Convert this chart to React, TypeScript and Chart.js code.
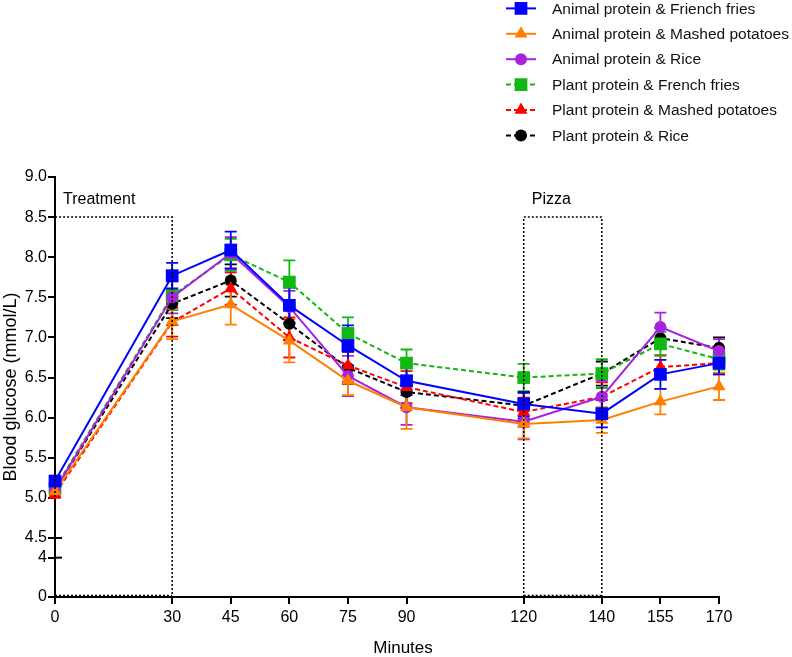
import React, { useEffect, useRef } from 'react';
import { Chart, registerables } from 'chart.js';

Chart.register(...registerables);

// ---------- data ----------
const minutes = [0, 30, 45, 60, 75, 90, 120, 140, 155, 170];
const lowerTickValues = [0, 4];

const seriesNames = [
  'Animal protein & Friench fries',
  'Animal protein & Mashed potatoes',
  'Animal protein & Rice',
  'Plant protein & French fries',
  'Plant protein & Mashed potatoes',
  'Plant protein & Rice',
];

const xTitle = 'Minutes';
const yTitle = 'Blood glucose (mmol/L)';

const animalFrenchFries = [5.21, 7.77, 8.09, 7.4, 6.9, 6.46, 6.17, 6.05, 6.54, 6.68];
const animalFrenchFriesSem = [0.05, 0.16, 0.23, 0.22, 0.25, 0.18, 0.15, 0.17, 0.18, 0.14];

const animalMashed = [5.08, 7.2, 7.41, 6.96, 6.46, 6.13, 5.92, 5.97, 6.2, 6.39];
const animalMashedSem = [0.05, 0.22, 0.25, 0.27, 0.18, 0.27, 0.18, 0.16, 0.16, 0.17];

const animalRice = [5.1, 7.5, 8.05, 7.38, 6.52, 6.13, 5.95, 6.26, 7.13, 6.83];
const animalRiceSem = [0.05, 0.2, 0.2, 0.2, 0.25, 0.22, 0.22, 0.2, 0.18, 0.15];

const plantFrenchFries = [5.12, 7.52, 8.03, 7.69, 7.05, 6.68, 6.5, 6.55, 6.92, 6.73];
const plantFrenchFriesSem = [0.05, 0.18, 0.2, 0.27, 0.2, 0.17, 0.17, 0.18, 0.15, 0.13];

const plantMashed = [5.05, 7.19, 7.61, 7.0, 6.65, 6.38, 6.07, 6.26, 6.63, 6.68];
const plantMashedSem = [0.05, 0.18, 0.2, 0.25, 0.2, 0.2, 0.18, 0.18, 0.15, 0.14];

const plantRice = [5.1, 7.42, 7.71, 7.17, 6.62, 6.32, 6.15, 6.55, 6.99, 6.87];
const plantRiceSem = [0.05, 0.18, 0.2, 0.2, 0.2, 0.2, 0.16, 0.15, 0.13, 0.13];

const seriesValues = [animalFrenchFries, animalMashed, animalRice, plantFrenchFries, plantMashed, plantRice];
const seriesSem = [animalFrenchFriesSem, animalMashedSem, animalRiceSem, plantFrenchFriesSem, plantMashedSem, plantRiceSem];

// ---------- styles ----------
const colors = ['#0000ff', '#ff8000', '#a822e0', '#12b812', '#ff0000', '#000000'];
const shapes = ['rect', 'triangle', 'circle', 'rect', 'triangle', 'circle'];
const dashed = [false, false, false, true, true, true];
const radii: Record<string, number> = { rect: 9, triangle: 7.5, circle: 6 };
const DASH = [5, 3];
const FONT = '"Liberation Sans", Arial, sans-serif';

const boxes = [
  { label: 'Treatment', from: 0, to: 30, top: 8.5 },
  { label: 'Pizza', from: 120, to: 140, top: 8.5 },
];

function drawMarker(ctx: CanvasRenderingContext2D, shape: string, x: number, y: number, color: string) {
  ctx.save();
  ctx.setLineDash([]);
  ctx.fillStyle = color;
  ctx.beginPath();
  const r = radii[shape];
  if (shape === 'rect') {
    const s = r * Math.SQRT1_2;
    ctx.rect(x - s, y - s, 2 * s, 2 * s);
  } else if (shape === 'triangle') {
    ctx.moveTo(x, y - r);
    ctx.lineTo(x + r * 0.866, y + r * 0.5);
    ctx.lineTo(x - r * 0.866, y + r * 0.5);
    ctx.closePath();
  } else {
    ctx.arc(x, y, r, 0, Math.PI * 2);
  }
  ctx.fill();
  ctx.restore();
}

const errorBarPlugin = {
  id: 'errorBars',
  beforeDatasetsDraw(chart: any) {
    const ctx = chart.ctx as CanvasRenderingContext2D;
    const xs = chart.scales.x;
    const ys = chart.scales.y;
    for (let i = seriesValues.length - 1; i >= 0; i--) {
      ctx.save();
      ctx.strokeStyle = colors[i];
      ctx.lineWidth = 1.8;
      ctx.setLineDash([]);
      minutes.forEach((m, j) => {
        const v = seriesValues[i][j];
        const e = seriesSem[i][j];
        const x = xs.getPixelForValue(m);
        const yt = ys.getPixelForValue(v + e);
        const yb = ys.getPixelForValue(v - e);
        ctx.beginPath();
        ctx.moveTo(x, yt);
        ctx.lineTo(x, yb);
        ctx.moveTo(x - 6, yt);
        ctx.lineTo(x + 6, yt);
        ctx.moveTo(x - 6, yb);
        ctx.lineTo(x + 6, yb);
        ctx.stroke();
      });
      ctx.restore();
    }
  },
};

const decorPlugin = {
  id: 'decor',
  afterDraw(chart: any) {
    const ctx = chart.ctx as CanvasRenderingContext2D;
    const xs = chart.scales.x;
    const ys = chart.scales.y;
    const y2 = chart.scales.y2;
    // treatment / pizza boxes
    boxes.forEach((b) => {
      const x0 = xs.getPixelForValue(b.from);
      const x1 = xs.getPixelForValue(b.to);
      const yTop = ys.getPixelForValue(b.top);
      const yBot = y2.getPixelForValue(0);
      ctx.save();
      ctx.strokeStyle = '#000';
      ctx.lineWidth = 1.5;
      ctx.setLineDash([2, 2]);
      ctx.beginPath();
      ctx.moveTo(x0, yBot);
      ctx.lineTo(x0, yTop);
      ctx.lineTo(x1, yTop);
      ctx.lineTo(x1, yBot);
      ctx.moveTo(x0, yBot - 1.5);
      ctx.lineTo(x1, yBot - 1.5);
      ctx.stroke();
      ctx.restore();
      ctx.save();
      ctx.fillStyle = '#000';
      ctx.font = `16px ${FONT}`;
      ctx.textBaseline = 'alphabetic';
      ctx.textAlign = 'left';
      ctx.fillText(b.label, x0 + 8, ys.getPixelForValue(9) + 27);
      ctx.restore();
    });
    // axis break marks
    const axisX = chart.chartArea.left;
    ctx.save();
    ctx.strokeStyle = '#000';
    ctx.lineWidth = 2;
    ctx.setLineDash([]);
    [ys.getPixelForValue(4.5), y2.getPixelForValue(4)].forEach((py) => {
      ctx.beginPath();
      ctx.moveTo(axisX, py);
      ctx.lineTo(axisX + 7, py);
      ctx.stroke();
    });
    ctx.restore();
    // axis titles
    ctx.save();
    ctx.fillStyle = '#000';
    ctx.textAlign = 'center';
    ctx.textBaseline = 'middle';
    ctx.font = `17px ${FONT}`;
    ctx.fillText(xTitle, 403, 648);
    ctx.font = `18px ${FONT}`;
    ctx.translate(11, 387);
    ctx.rotate(-Math.PI / 2);
    ctx.fillText(yTitle, 0, 0);
    ctx.restore();
    // legend
    seriesNames.forEach((name, i) => {
      const cy = 8.4 + i * 25.4;
      ctx.save();
      ctx.strokeStyle = colors[i];
      ctx.lineWidth = 2;
      ctx.setLineDash(dashed[i] ? DASH : []);
      ctx.beginPath();
      ctx.moveTo(506, cy);
      ctx.lineTo(536, cy);
      ctx.stroke();
      ctx.restore();
      drawMarker(ctx, shapes[i], 521, cy, colors[i]);
      ctx.save();
      ctx.fillStyle = '#111';
      ctx.font = `15.5px ${FONT}`;
      ctx.textBaseline = 'middle';
      ctx.textAlign = 'left';
      ctx.fillText(name, 552, cy + 1);
      ctx.restore();
    });
  },
};

export default function App() {
  const ref = useRef<HTMLCanvasElement | null>(null);

  useEffect(() => {
    if (!ref.current) return;
    const datasets = seriesNames.map((name, i) => ({
      label: name,
      data: minutes.map((m, j) => ({ x: m, y: seriesValues[i][j] })),
      borderColor: colors[i],
      backgroundColor: colors[i],
      borderWidth: 2,
      borderDash: dashed[i] ? DASH : [],
      pointStyle: shapes[i],
      pointRadius: radii[shapes[i]],
      pointHoverRadius: radii[shapes[i]],
      pointBackgroundColor: colors[i],
      pointBorderColor: colors[i],
      pointBorderWidth: 0,
      tension: 0,
      fill: false,
      xAxisID: 'x',
      yAxisID: 'y',
      clip: false as any,
    }));

    const axisCommon = {
      border: { color: '#000', width: 2 },
      grid: { drawOnChartArea: false, drawTicks: true, color: '#000', lineWidth: 2, tickLength: 7 },
    };

    const chart = new Chart(ref.current, {
      type: 'line',
      data: { datasets: datasets as any },
      plugins: [errorBarPlugin, decorPlugin],
      options: {
        animation: false,
        responsive: true,
        maintainAspectRatio: false,
        layout: { padding: { top: 177, right: 73, bottom: 0, left: 0 } },
        plugins: { legend: { display: false }, tooltip: { enabled: false } },
        scales: {
          x: {
            type: 'linear',
            min: 0,
            max: 170,
            ...axisCommon,
            afterBuildTicks: (s: any) => {
              s.ticks = minutes.map((v) => ({ value: v }));
            },
            afterFit: (s: any) => {
              s.height = 60;
            },
            ticks: {
              autoSkip: false,
              maxRotation: 0,
              padding: 4,
              color: '#000',
              font: { size: 16, family: FONT },
              callback: (v: any) => String(v),
            },
          },
          y2: {
            type: 'linear',
            position: 'left',
            stack: 'glucose',
            stackWeight: 59,
            min: 0,
            max: 6,
            ...axisCommon,
            afterFit: (s: any) => {
              s.width = 55;
            },
            afterBuildTicks: (s: any) => {
              s.ticks = lowerTickValues.map((v) => ({ value: v }));
            },
            ticks: {
              padding: 1,
              color: '#000',
              font: { size: 16, family: FONT },
              callback: (v: any) => String(v),
            },
          },
          y: {
            type: 'linear',
            position: 'left',
            stack: 'glucose',
            stackWeight: 361,
            min: 4.5,
            max: 9,
            ...axisCommon,
            afterFit: (s: any) => {
              s.width = 55;
            },
            ticks: {
              stepSize: 0.5,
              padding: 1,
              color: '#000',
              font: { size: 16, family: FONT },
              callback: (v: any) => Number(v).toFixed(1),
            },
          },
        },
      } as any,
    });
    return () => chart.destroy();
  }, []);

  return (
    <div style={{ position: 'fixed', left: 0, top: 0, width: 792, height: 657, background: '#fff' }}>
      <canvas ref={ref} />
    </div>
  );
}
